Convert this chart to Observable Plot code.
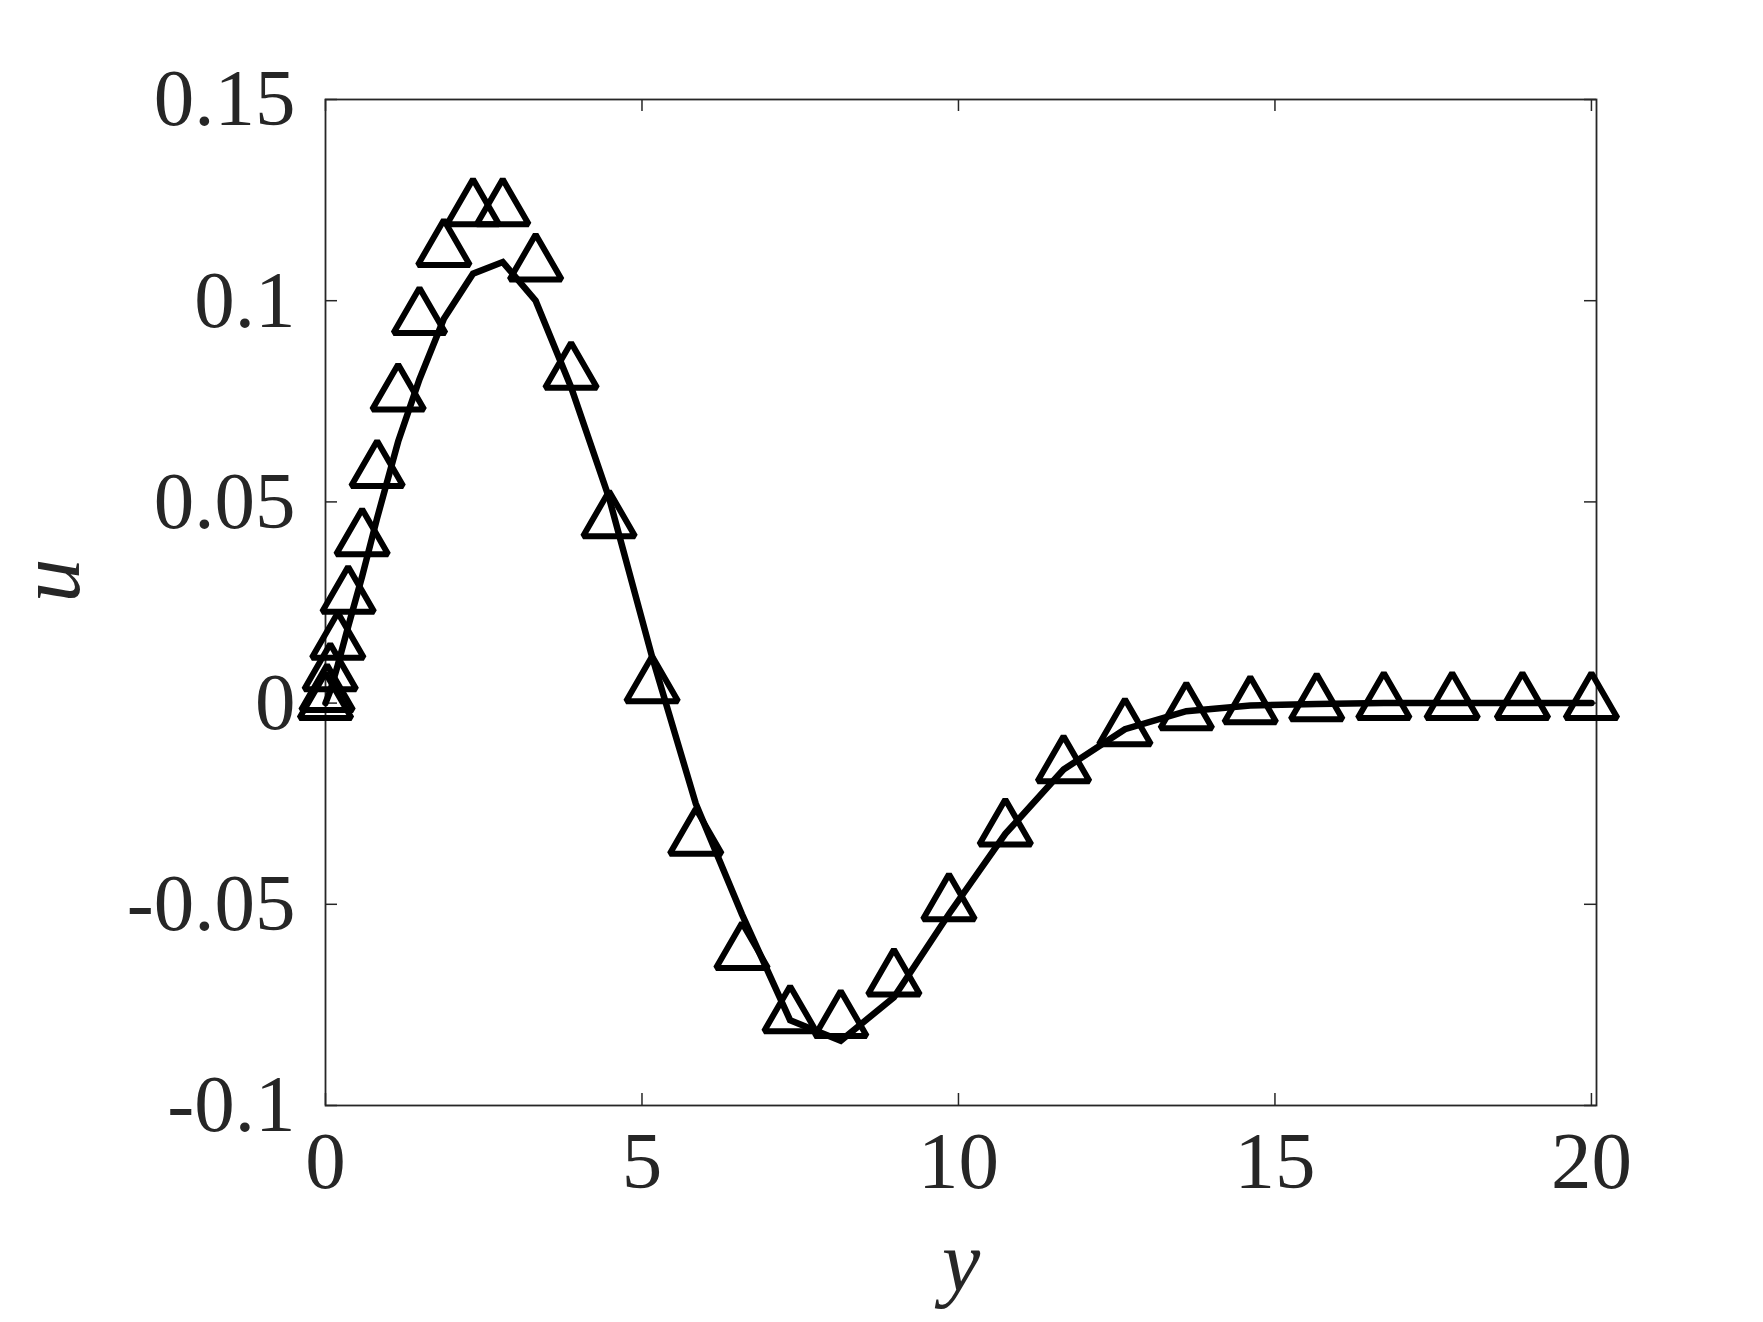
<!DOCTYPE html>
<html>
<head>
<meta charset="utf-8">
<script src="https://cdn.jsdelivr.net/npm/d3@7"></script>
<script src="https://cdn.jsdelivr.net/npm/@observablehq/plot@0.6"></script>
<style>
  html, body { margin: 0; padding: 0; background: #ffffff; }
</style>
</head>
<body>
<div id="chart"></div>
<script>
// x-axis ticks and y-axis ticks
const xTicks = [0, 5, 10, 15, 20];
const yTicks = [-0.1, -0.05, 0, 0.05, 0.1, 0.15];
const yTickLabels = ["-0.1", "-0.05", "0", "0.05", "0.1", "0.15"];
const xLabel = "y";
const yLabel = "u";

// solid line series
const lineY = [0, 0.075, 0.195, 0.358, 0.579, 0.816, 1.148, 1.485, 1.87, 2.33, 2.80, 3.32, 3.88, 4.48, 5.16, 5.85, 6.58, 7.34, 8.14, 8.98, 9.85, 10.74, 11.66, 12.63, 13.60, 14.61, 15.66, 16.72, 17.80, 18.91, 20.0];
const lineU = [0, 0.003, 0.0095, 0.019, 0.0315, 0.046, 0.065, 0.0805, 0.0955, 0.1067, 0.1096, 0.1000, 0.0785, 0.051, 0.0115, -0.025, -0.0525, -0.0788, -0.0839, -0.0731, -0.0524, -0.0325, -0.0165, -0.0065, -0.002, -0.0006, -0.0002, 0, 0, 0, 0];

// triangle marker series
const triY = [0, 0.025, 0.075, 0.195, 0.358, 0.579, 0.816, 1.148, 1.485, 1.87, 2.33, 2.80, 3.32, 3.88, 4.48, 5.16, 5.85, 6.58, 7.34, 8.14, 8.98, 9.85, 10.74, 11.66, 12.63, 13.60, 14.61, 15.66, 16.72, 17.80, 18.91, 20.0];
const triU = [0, 0.002, 0.0072, 0.015, 0.0264, 0.0407, 0.0577, 0.0767, 0.0957, 0.1126, 0.1227, 0.1227, 0.109, 0.0821, 0.0452, 0.0042, -0.0337, -0.0621, -0.0778, -0.079, -0.0687, -0.05, -0.0314, -0.0157, -0.0065, -0.0025, -0.001, -0.0003, 0, 0, 0, 0];

const lineData = lineY.map((v, i) => ({y: v, u: lineU[i]}));
const triData = triY.map((v, i) => ({y: v, u: triU[i]}));

const W = 1763, H = 1322;
const mL = 325, mR = 167, mT = 99, mB = 217;
const plotW = W - mL - mR, plotH = H - mT - mB;
const tickLen = 12;
const axisColor = "#262626";
const serif = "'Liberation Serif', 'DejaVu Serif', serif";

const fmtY = d => yTickLabels[yTicks.findIndex(t => Math.abs(t - d) < 1e-9)];

const chart = Plot.plot({
  width: W,
  height: H,
  marginLeft: mL,
  marginRight: mR,
  marginTop: mT,
  marginBottom: mB,
  style: {background: "#ffffff", color: axisColor, fontFamily: serif},
  x: {domain: [0, 20.08]},
  y: {domain: [-0.1, 0.15]},
  marks: [
    Plot.frame({stroke: axisColor, strokeWidth: 1.8}),
    // inward tick marks: bottom & top
    Plot.tickX(xTicks, {x: d => d, stroke: axisColor, strokeWidth: 1.5, insetTop: plotH - tickLen}),
    Plot.tickX(xTicks, {x: d => d, stroke: axisColor, strokeWidth: 1.5, insetBottom: plotH - tickLen}),
    // inward tick marks: left & right
    Plot.tickY(yTicks, {y: d => d, stroke: axisColor, strokeWidth: 1.5, insetRight: plotW - tickLen}),
    Plot.tickY(yTicks, {y: d => d, stroke: axisColor, strokeWidth: 1.5, insetLeft: plotW - tickLen}),
    Plot.axisX({ticks: xTicks, tickSize: 0, tickPadding: 25, fontSize: 81, fontFamily: serif, label: null, tickFormat: d => String(d)}),
    Plot.axisY({ticks: yTicks, tickSize: 0, tickPadding: 30, fontSize: 81, fontFamily: serif, label: null, tickFormat: fmtY}),
    Plot.line(lineData, {x: "y", y: "u", stroke: "#000000", strokeWidth: 6.5, strokeLinejoin: "miter", strokeMiterlimit: 4}),
    Plot.dot(triData, {x: "y", y: "u", symbol: "triangle", r: 19.3, stroke: "#000000", strokeWidth: 6, fill: "none", strokeLinejoin: "miter", strokeMiterlimit: 1.6}),
    Plot.text([xLabel], {frameAnchor: "bottom", text: d => d, dy: 184, lineAnchor: "bottom", fontSize: 86, fontStyle: "italic", fontFamily: serif, fill: axisColor}),
    Plot.text([yLabel], {frameAnchor: "left", text: d => d, dx: -247, rotate: -90, lineAnchor: "bottom", fontSize: 88, fontStyle: "italic", fontFamily: serif, fill: axisColor})
  ]
});

document.getElementById("chart").appendChild(chart);
</script>
</body>
</html>
